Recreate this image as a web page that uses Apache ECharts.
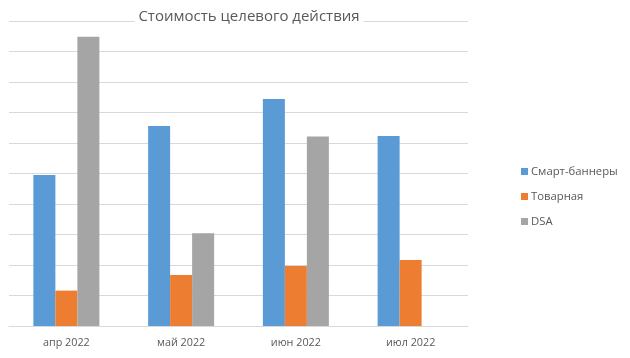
<!DOCTYPE html>
<html><head><meta charset="utf-8">
<script src="https://cdn.jsdelivr.net/npm/echarts@6/dist/echarts.min.js"></script>
<style>html,body{margin:0;padding:0;background:#fff}#c{width:630px;height:358px}</style>
</head><body><div id="c"></div>
<script>
var categories = ['апр 2022', 'май 2022', 'июн 2022', 'июл 2022'];
var smart = [4.95, 6.56, 7.44, 6.23];
var tovar = [1.16, 1.67, 1.97, 2.16];
var dsa = [9.48, 3.04, 6.21, null];
var seriesNames = ['Смарт-баннеры', 'Товарная', 'DSA'];
var colors = ['#5b9bd5', '#ed7d31', '#a5a5a5'];
var font = '"Open Sans", sans-serif';
var chart = echarts.init(document.getElementById('c'));
chart.setOption({
  animation: false,
  title: {text: 'Стоимость целевого действия', left: 245, textAlign: 'center', top: 9,
    backgroundColor: '#fff', padding: [0, 4],
    textStyle: {fontFamily: font, fontSize: 15, fontWeight: 'normal', color: '#595959'}},
  legend: {orient: 'vertical', left: 516, top: 161, itemWidth: 7, itemHeight: 7, itemGap: 14,
    icon: 'rect', textStyle: {fontFamily: font, fontSize: 11.3, color: '#595959', padding: [0,0,0,-2]},
    data: seriesNames},
  grid: {left: 9, right: 162, top: 21, bottom: 32, containLabel: false},
  xAxis: {type: 'category', data: categories,
    axisLine: {lineStyle: {color: '#d9d9d9'}}, axisTick: {show: false},
    axisLabel: {fontFamily: font, fontSize: 10.8, color: '#595959', margin: 11}},
  yAxis: {type: 'value', min: 0, max: 10, interval: 1, axisLabel: {show: false},
    axisLine: {show: false}, axisTick: {show: false},
    splitLine: {lineStyle: {color: '#d9d9d9'}}},
  series: [
    {name: seriesNames[0], type: 'bar', data: smart, barWidth: 22, barGap: '0%', itemStyle: {color: colors[0]}},
    {name: seriesNames[1], type: 'bar', data: tovar, barWidth: 22, barGap: '0%', itemStyle: {color: colors[1]}},
    {name: seriesNames[2], type: 'bar', data: dsa, barWidth: 22, barGap: '0%', itemStyle: {color: colors[2]}}
  ]
});
</script></body></html>
